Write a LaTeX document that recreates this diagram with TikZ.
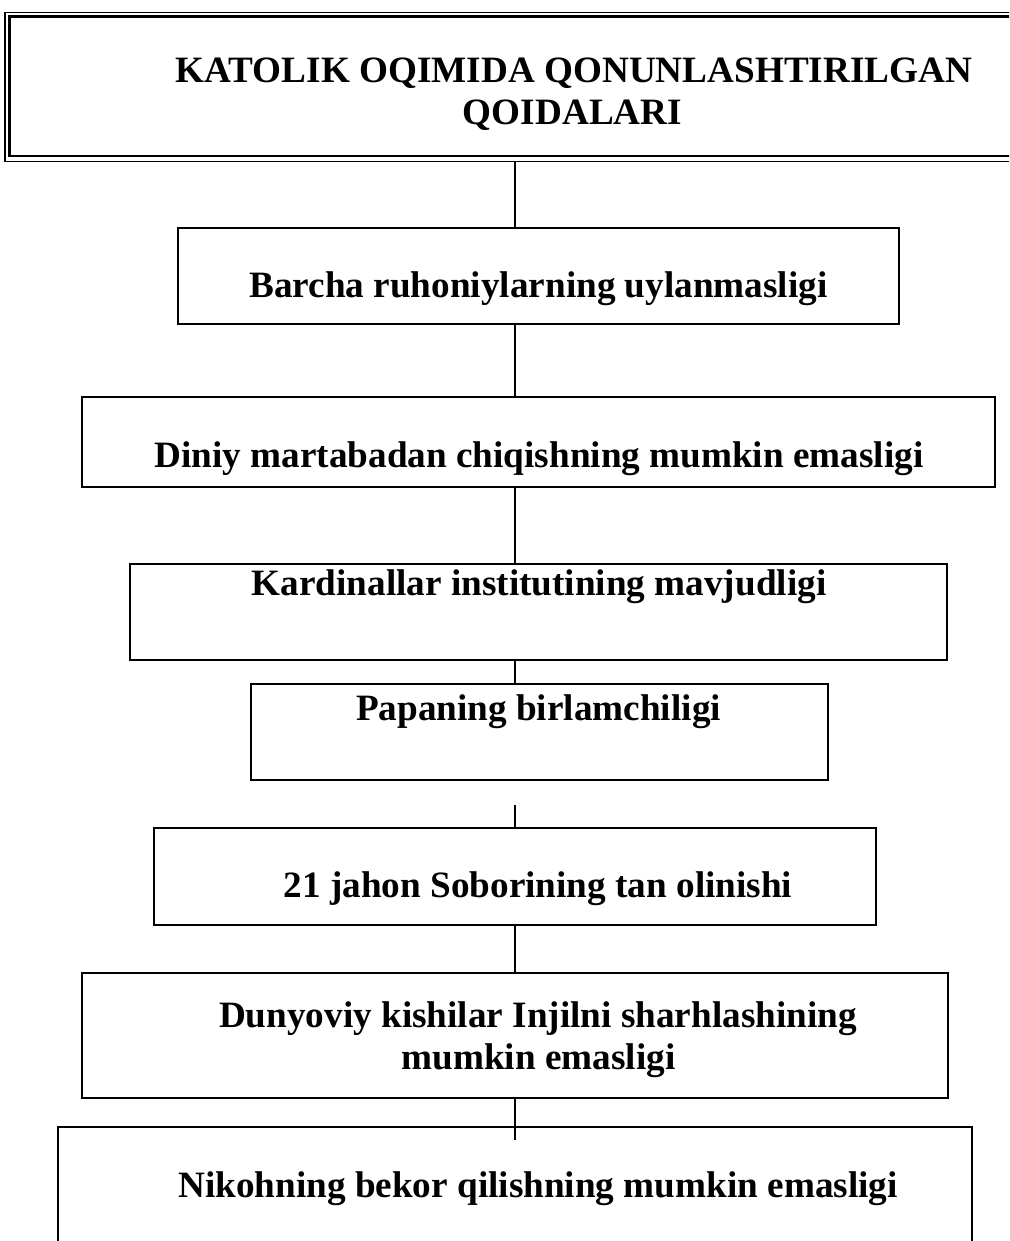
\documentclass[tikz,border=0pt]{standalone}
\usepackage{fontspec}
\setmainfont{Liberation Serif}
\usetikzlibrary{calc}
\begin{document}
\begin{tikzpicture}[x=1pt,y=-1pt,
  box/.style={draw, line width=2.2pt, rectangle, inner sep=0pt, outer sep=0pt},
  lbl/.style={font=\fontsize{37.2}{42.5}\selectfont\bfseries, inner sep=0pt, anchor=base},
  conn/.style={line width=2pt}]
\useasboundingbox (0,0) rectangle (1009,1241);
\clip (0,0) rectangle (1009,1241);
\coordinate (spine) at (515,0);
% title box (double frame, thin outside, thick inside)
\node[draw, line width=1.5pt, minimum width=1025pt, minimum height=148.8pt,
      inner sep=0pt, outer sep=0pt, anchor=north west] (title) at (5,12.5) {};
\draw[line width=2.6pt] ($(title.north west)+(4.5,4.2)$) rectangle ($(title.south east)+(0,-5.1)$);
\node[lbl] (t1) at (574,83) {KATOLIK OQIMIDA QONUNLASHTIRILGAN};
\node[lbl] (t2) at (572.5,125) {QOIDALARI};
% boxes
\node[box, minimum width=721pt, minimum height=96pt] (b1) at (538.5,276) {};
\node[box, minimum width=913pt, minimum height=90pt] (b2) at (538.5,442) {};
\node[box, minimum width=817pt, minimum height=96pt] (b3) at (538.5,612) {};
\node[box, minimum width=577pt, minimum height=96pt] (b4) at (539.5,732) {};
\node[box, minimum width=722pt, minimum height=97pt] (b5) at (515,876.5) {};
\node[box, minimum width=866pt, minimum height=125pt] (b6) at (515,1035.5) {};
\node[box, minimum width=914pt, minimum height=173pt] (b7) at (515,1213.5) {};
% texts
\node[lbl] (l1) at (538.5,297) {Barcha ruhoniylarning uylanmasligi};
\node[lbl] (l2) at (539,467) {Diniy martabadan chiqishning mumkin emasligi};
\node[lbl] (l3) at (539,595) {Kardinallar institutining mavjudligi};
\node[lbl] (l4) at (538.5,720) {Papaning birlamchiligi};
\node[lbl] (l5) at (538,897) {21 jahon Soborining tan olinishi};
\node[lbl] (l6a) at (538,1027) {Dunyoviy kishilar Injilni sharhlashining};
\node[lbl] (l6b) at (538.5,1069) {mumkin emasligi};
\node[lbl] (l7) at (538,1197) {Nikohning bekor qilishning mumkin emasligi};
% connectors
\coordinate (gapstart) at (515,805);
\coordinate (end7) at (515,1140);
\draw[conn] (title.south -| spine) -- (b1.north -| spine);
\draw[conn] (b1.south -| spine) -- (b2.north -| spine);
\draw[conn] (b2.south -| spine) -- (b3.north -| spine);
\draw[conn] (b3.south -| spine) -- (b4.north -| spine);
\draw[conn] (gapstart) -- (b5.north -| spine);
\draw[conn] (b5.south -| spine) -- (b6.north -| spine);
\draw[conn] (b6.south -| spine) -- (end7);
\end{tikzpicture}
\end{document}
